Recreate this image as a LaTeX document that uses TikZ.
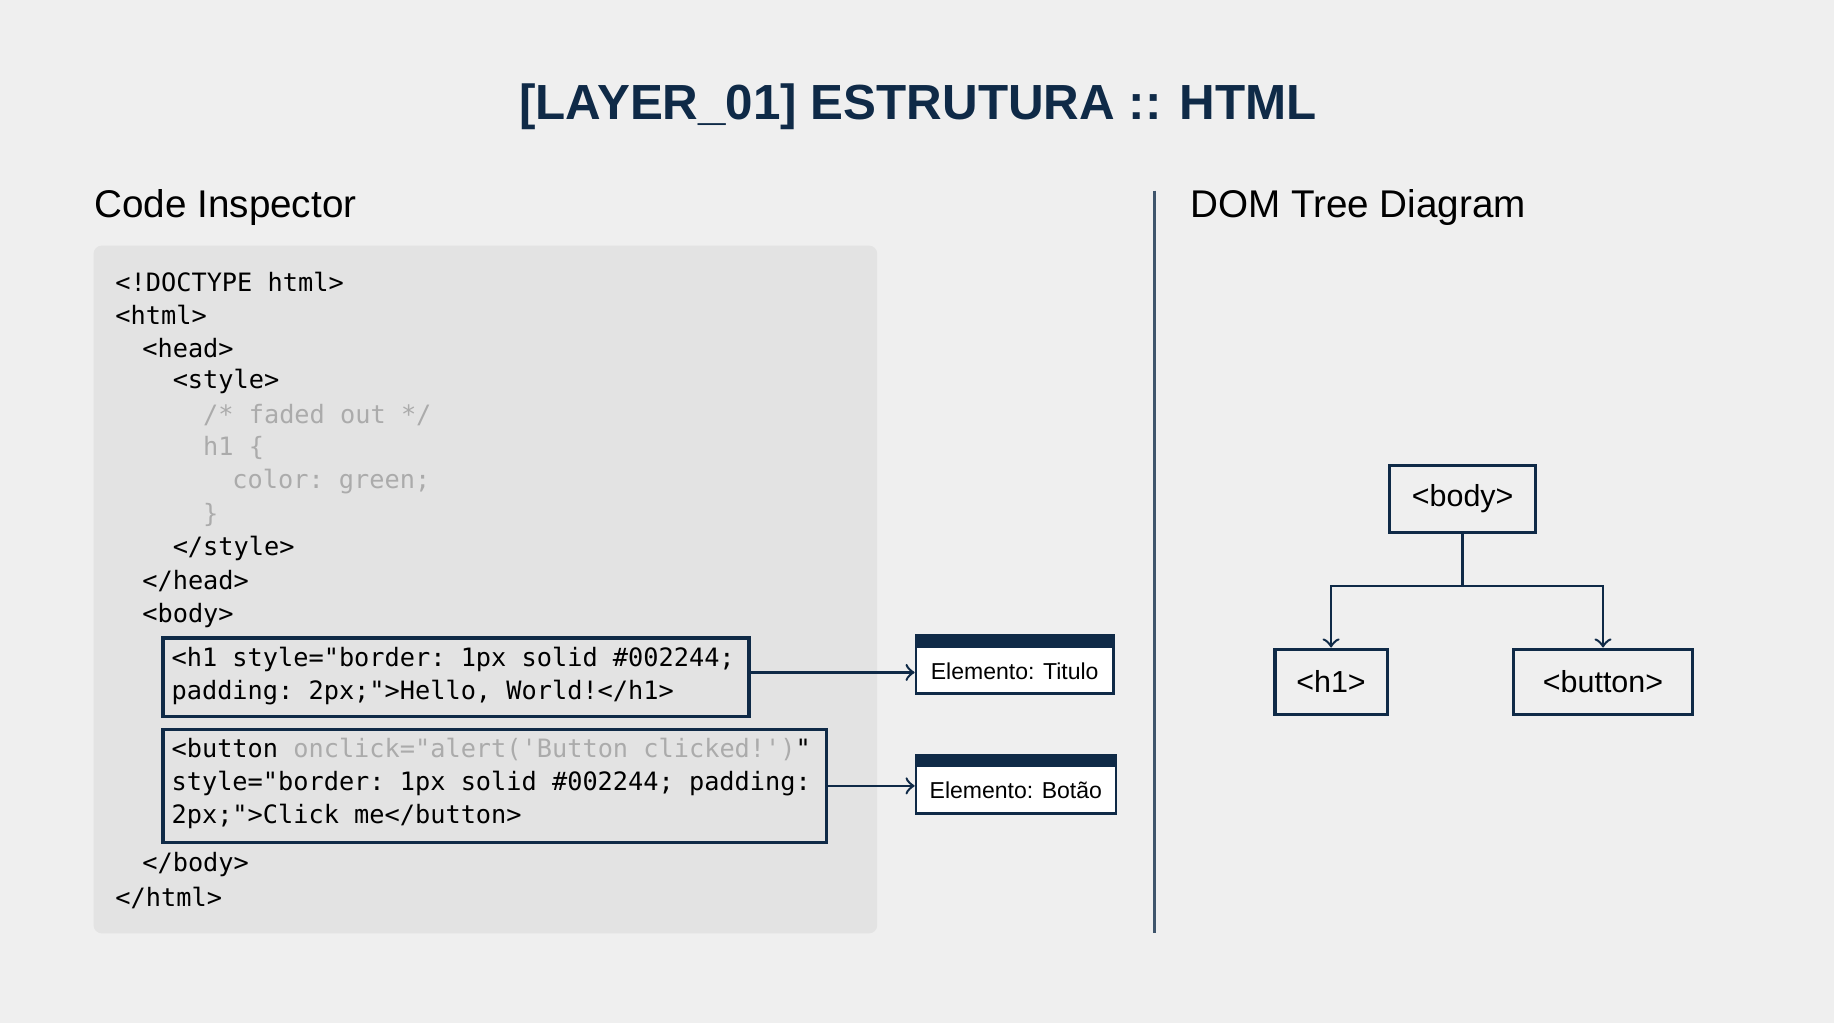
\documentclass[tikz,border=0pt]{standalone}
\usepackage{fontspec}
\setmainfont{Liberation Sans}
\setsansfont{Liberation Sans}
\setmonofont{DejaVu Sans Mono}
\usetikzlibrary{positioning}
\definecolor{navy}{HTML}{0F2A47}
\definecolor{bg}{HTML}{EFEFEF}
\definecolor{panel}{HTML}{E3E3E3}
\definecolor{faded}{HTML}{ABABAB}

\tikzset{
  code/.style={anchor=west, inner sep=0pt, font=\ttfamily\fontsize{6.15}{7}\selectfont},
  fadedcode/.style={code, text=faded},
  codebox/.style={draw=navy, line width=0.8pt, anchor=north west},
  tag/.style={draw=navy, fill=white, line width=0.6pt, minimum width=1.69cm, minimum height=0.5cm, inner sep=0pt},
  tagtext/.style={inner sep=0pt, font=\sffamily\fontsize{5.6}{6}\selectfont},
  domnode/.style={draw=navy, line width=0.8pt, inner sep=0pt, minimum height=0.56cm, font=\sffamily\fontsize{7.4}{9}\selectfont},
  heading/.style={anchor=west, inner sep=0pt, font=\sffamily\fontsize{9.4}{11}\selectfont}
}

\begin{document}
\begin{tikzpicture}
\useasboundingbox[fill=bg] (0,0) rectangle (15.68,8.75);

\node[inner sep=0pt, text=navy, font=\sffamily\bfseries\fontsize{12}{14}\selectfont] (title) at (7.85,7.84) {[LAYER\_01] ESTRUTURA :: HTML};
\node[heading] (inspector) at (0.80,6.98) {Code Inspector};
\node[heading] (domtitle) at (10.17,6.98) {DOM Tree Diagram};

% code panel
\fill[panel, rounded corners=2pt] (0.80,0.77) rectangle (7.50,6.65);
\coordinate (divtop) at (9.87,7.12);
\coordinate (divbot) at (9.87,0.77);
\draw[navy!80, line width=0.6pt] (divtop) -- (divbot);

\node[code] (l1) at (0.98,6.34) {<!DOCTYPE html>};
\node[code] (l2) at (0.98,6.06) {<html>};
\node[code] (l3) at (1.21,5.77) {<head>};
\node[code] (l4) at (1.47,5.49) {<style>};
\node[fadedcode] (l5) at (1.73,5.20) {/* faded out */};
\node[fadedcode] (l6) at (1.73,4.92) {h1 \{};
\node[fadedcode] (l7) at (1.98,4.63) {color: green;};
\node[fadedcode] (l8) at (1.73,4.35) {\}};
\node[code] (l9) at (1.47,4.06) {</style>};
\node[code] (l10) at (1.21,3.78) {</head>};
\node[code] (l11) at (1.21,3.49) {<body>};

% highlighted elements
\node[codebox, minimum width=5.01cm, minimum height=0.67cm] (h1box) at (1.38,3.31) {};
\node[code] (h1a) at (1.46,3.11) {<h1 style="border: 1px solid \#002244;};
\node[code] (h1b) at (1.46,2.83) {padding: 2px;">Hello, World!</h1>};

\node[codebox, minimum width=5.67cm, minimum height=0.97cm] (btnbox) at (1.38,2.53) {};
\node[code] (b1) at (1.46,2.34) {<button \textcolor{faded}{onclick="alert('Button clicked!')}"};
\node[code] (b2) at (1.46,2.05) {style="border: 1px solid \#002244; padding:};
\node[code] (b3) at (1.46,1.77) {2px;">Click me</button>};

\node[code] (l12) at (1.21,1.36) {</body>};
\node[code] (l13) at (0.98,1.07) {</html>};

% element tags
\node[tag] (titulo) at (8.675,3.07) {};
\fill[navy] (titulo.north west) rectangle ([yshift=-0.12cm]titulo.north east);
\node[tagtext] at ([yshift=-0.06cm]titulo.center) {Elemento: Titulo};
\node[tag, minimum width=1.71cm] (botao) at (8.685,2.045) {};
\fill[navy] (botao.north west) rectangle ([yshift=-0.11cm]botao.north east);
\node[tagtext] at ([yshift=-0.055cm]botao.center) {Elemento: Botão};

\draw[->, navy, line width=0.6pt] ([yshift=0.04cm]h1box.east) -- ([yshift=0.04cm]h1box.east -| titulo.west);
\draw[->, navy, line width=0.6pt] (btnbox.east) -- (btnbox.east -| botao.west);

% DOM tree
\node[domnode, minimum width=1.25cm, minimum height=0.57cm] (body) at (12.505,4.485) {<body>};
\node[domnode, minimum width=0.96cm] (h1) at (11.38,2.92) {<h1>};
\node[domnode, minimum width=1.53cm] (button) at (13.705,2.92) {<button>};
\coordinate (branch) at (12.505,3.74);
\draw[navy, line width=0.6pt] (body.south) -- (branch);
\draw[->, navy, line width=0.6pt] (branch) -| (h1.north);
\draw[->, navy, line width=0.6pt] (branch) -| (button.north);
\end{tikzpicture}
\end{document}
